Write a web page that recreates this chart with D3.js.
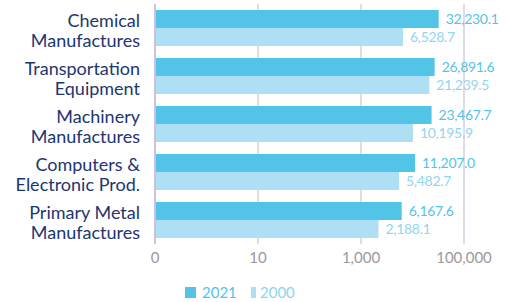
<!DOCTYPE html>
<html><head><meta charset="utf-8">
<script src="https://cdn.jsdelivr.net/npm/d3@7"></script>
<style>body{margin:0;background:#fff}svg{display:block}</style>
</head><body>
<svg id="c" width="505" height="302"></svg>
<script>
const categories = [["Chemical","Manufactures"],["Transportation","Equipment"],["Machinery","Manufactures"],["Computers &","Electronic Prod."],["Primary Metal","Manufactures"]];
const series = ["2021","2000"];
const values2021 = [32230.1, 26891.6, 23467.7, 11207.0, 6167.6];
const values2000 = [6528.7, 21239.5, 10195.9, 5482.7, 2188.1];
const tickValues = [0.1, 10, 1000, 100000];
const tickLabels = ["0", "10", "1,000", "100,000"];

const colors = {"2021":"#52c4e8","2000":"#aedff4"};
const textColors = {"2021":"#55c3e8","2000":"#93d5f0"};
const font = "Lato, 'Open Sans', sans-serif";

const svg = d3.select("#c");
const x = d3.scaleLog().domain([0.1, 100000]).range([155, 464]);
const y = d3.scaleBand().domain(d3.range(categories.length)).range([4, 244]).paddingInner(0.25).paddingOuter(0.125);
const sub = d3.scaleBand().domain(series).range([0, y.bandwidth()]);

// gridlines
svg.append("g").selectAll("line").data(tickValues.slice(1)).join("line")
  .attr("x1", d => x(d)).attr("x2", d => x(d)).attr("y1", 4).attr("y2", 244)
  .attr("stroke", "#c9c4dc").attr("stroke-width", 1.2);

const data = [];
categories.forEach((c, i) => {
  data.push({i, s: "2021", v: values2021[i]});
  data.push({i, s: "2000", v: values2000[i]});
});

svg.append("g").selectAll("rect").data(data).join("rect")
  .attr("x", x(0.1)).attr("y", d => y(d.i) + sub(d.s))
  .attr("width", d => x(d.v) - x(0.1)).attr("height", sub.bandwidth())
  .attr("fill", d => colors[d.s]);

// axis line
svg.append("line").attr("x1", x(0.1)).attr("x2", x(0.1)).attr("y1", 4).attr("y2", 244)
  .attr("stroke", "#c9c4dc").attr("stroke-width", 2);

const fmt = d3.format(",.1f");
svg.append("g").selectAll("text").data(data).join("text")
  .attr("x", d => x(d.v) + 7).attr("y", d => y(d.i) + sub(d.s) + sub.bandwidth()/2 + 5)
  .attr("fill", d => textColors[d.s]).attr("font-family", font).attr("font-size", 14)
  .attr("letter-spacing", -0.3)
  .text(d => fmt(d.v));

// category labels
const cat = svg.append("g").selectAll("text").data(categories).join("text")
  .attr("text-anchor", "end").attr("fill", "#1d3670").attr("font-family", font).attr("font-size", 18);
cat.each(function(d, i) {
  const t = d3.select(this);
  const cy = y(i) + y.bandwidth()/2;
  d.forEach((line, k) => t.append("tspan").attr("x", 140).attr("y", cy - 1 + k*20).text(line));
});

// x tick labels
svg.append("g").selectAll("text").data(tickValues).join("text")
  .attr("x", (d) => x(d)).attr("y", 263).attr("text-anchor", "middle")
  .attr("fill", "#9a9a9a").attr("font-family", font).attr("font-size", 15)
  .text((d, i) => tickLabels[i]);

// legend
const leg = [{s:"2021", rx:185, rw:11, tx:202},{s:"2000", rx:251, rw:5, tx:260}];
const lg = svg.append("g").selectAll("g").data(leg).join("g");
lg.append("rect").attr("x", d => d.rx).attr("y", 287).attr("width", d => d.rw).attr("height", 11).attr("fill", d => colors[d.s]);
lg.append("text").attr("x", d => d.tx).attr("y", 298).attr("fill", d => d.s === "2021" ? "#55c3e8" : "#8fd3ef")
  .attr("font-family", font).attr("font-size", 15).text(d => d.s);
</script>
</body></html>
